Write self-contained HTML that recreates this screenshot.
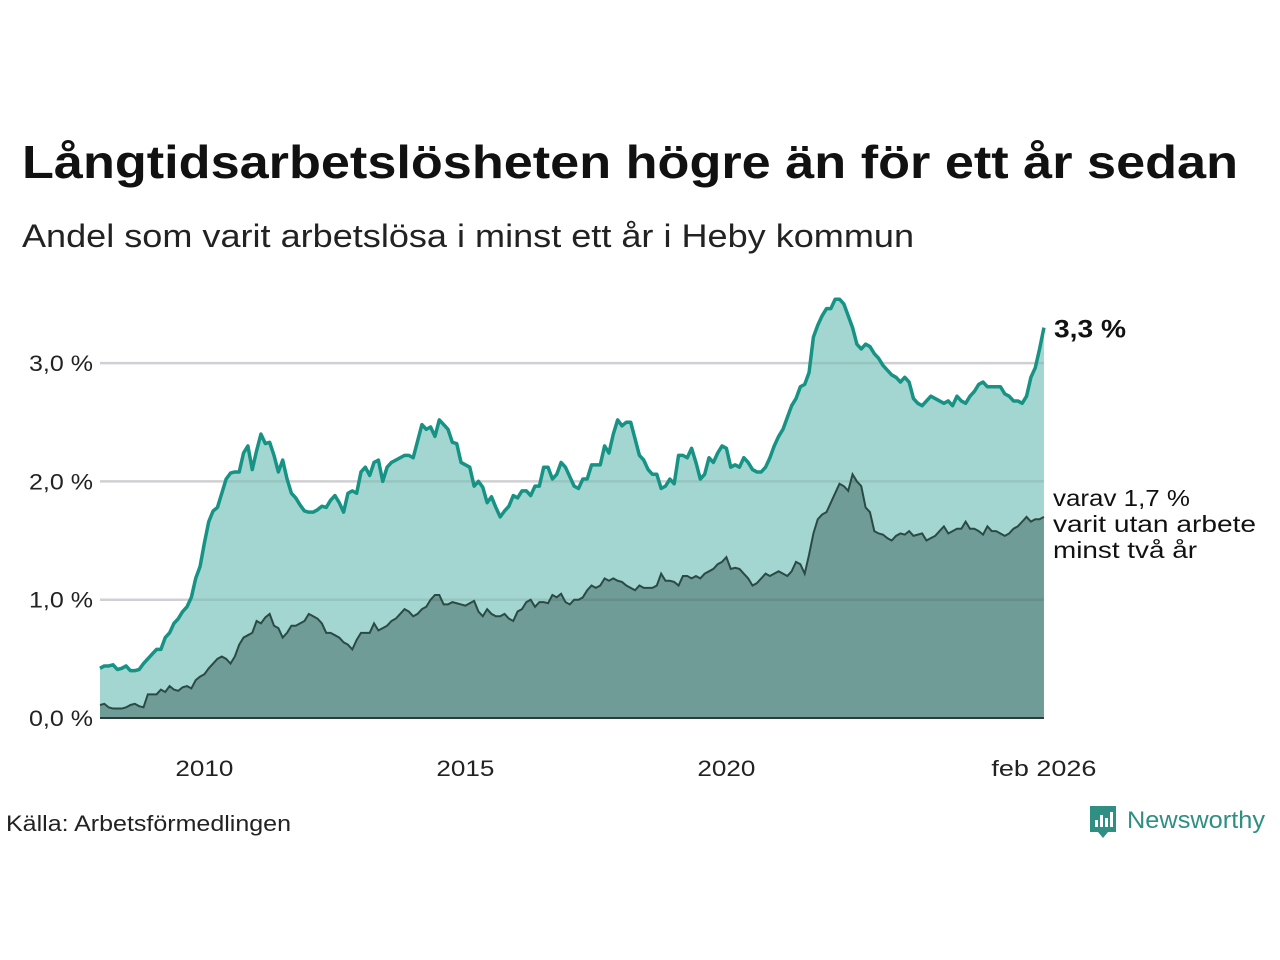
<!DOCTYPE html>
<html><head><meta charset="utf-8"><style>
html,body{margin:0;padding:0;background:#fff;}
svg{display:block;font-family:"Liberation Sans","DejaVu Sans",sans-serif;}
</style></head><body>
<svg id="chart" width="1280" height="960" viewBox="0 0 1280 960" xmlns="http://www.w3.org/2000/svg">
<text x="22" y="178" font-size="46" font-weight="bold" fill="#111" textLength="1216" lengthAdjust="spacingAndGlyphs">Långtidsarbetslösheten högre än för ett år sedan</text>
<text x="22" y="247" font-size="32" fill="#222" textLength="892" lengthAdjust="spacingAndGlyphs">Andel som varit arbetslösa i minst ett år i Heby kommun</text>
<g id="grid"></g>
<g id="areas"></g>
<g id="labels"></g>
<text x="6" y="831" font-size="22" fill="#222" textLength="285" lengthAdjust="spacingAndGlyphs">Källa: Arbetsförmedlingen</text>
<g>
<path d="M1090 806 h26 v26 h-8 l-5 6 l-5 -6 h-8 z" fill="#2f8f83"/>
<rect x="1095" y="820" width="3" height="7" fill="#fff"/><rect x="1100" y="815" width="3" height="12" fill="#fff"/><rect x="1105" y="818" width="3" height="9" fill="#fff"/><rect x="1110" y="812" width="3" height="15" fill="#fff"/>
<text x="1127" y="828" font-size="24" fill="#2f8f83" textLength="138" lengthAdjust="spacingAndGlyphs">Newsworthy</text>
</g>
</svg>
<script>
const startYear = 2008;
const totalValues = [
0.42,0.44,0.44,0.45,0.41,0.42,0.44,0.40,0.40,0.41,0.46,0.50,
0.54,0.58,0.58,0.68,0.72,0.80,0.84,0.90,0.94,1.02,1.18,1.28,
1.48,1.66,1.75,1.78,1.90,2.02,2.07,2.08,2.08,2.24,2.30,2.10,
2.26,2.40,2.32,2.33,2.22,2.08,2.18,2.02,1.90,1.86,1.80,1.75,
1.74,1.74,1.76,1.79,1.78,1.84,1.88,1.82,1.74,1.90,1.92,1.90,
2.08,2.12,2.05,2.16,2.18,2.00,2.12,2.16,2.18,2.20,2.22,2.22,
2.20,2.34,2.48,2.44,2.46,2.38,2.52,2.48,2.44,2.33,2.32,2.16,
2.14,2.12,1.96,2.00,1.95,1.82,1.87,1.78,1.70,1.75,1.79,1.88,
1.86,1.92,1.92,1.88,1.96,1.96,2.12,2.12,2.02,2.06,2.16,2.12,
2.04,1.96,1.94,2.02,2.02,2.14,2.14,2.14,2.30,2.24,2.40,2.52,
2.47,2.50,2.50,2.36,2.22,2.18,2.10,2.06,2.06,1.94,1.96,2.02,
1.98,2.22,2.22,2.20,2.28,2.16,2.02,2.06,2.20,2.16,2.24,2.30,
2.28,2.12,2.14,2.12,2.20,2.16,2.10,2.08,2.08,2.12,2.20,2.30,
2.38,2.44,2.54,2.64,2.70,2.80,2.82,2.92,3.22,3.32,3.40,3.46,
3.46,3.54,3.54,3.50,3.40,3.30,3.16,3.12,3.16,3.14,3.08,3.04,
2.98,2.94,2.90,2.88,2.84,2.88,2.84,2.70,2.66,2.64,2.68,2.72,
2.70,2.68,2.66,2.68,2.64,2.72,2.68,2.66,2.72,2.76,2.82,2.84,
2.80,2.80,2.80,2.80,2.74,2.72,2.68,2.68,2.66,2.72,2.88,2.96,
3.12,3.30];
const twoYearValues = [
0.11,0.12,0.09,0.08,0.08,0.08,0.09,0.11,0.12,0.10,0.09,0.20,
0.20,0.20,0.24,0.22,0.27,0.24,0.23,0.26,0.27,0.25,0.32,0.35,
0.37,0.42,0.46,0.50,0.52,0.50,0.46,0.52,0.62,0.68,0.70,0.72,
0.82,0.80,0.85,0.88,0.78,0.76,0.68,0.72,0.78,0.78,0.80,0.82,
0.88,0.86,0.84,0.80,0.72,0.72,0.70,0.68,0.64,0.62,0.58,0.66,
0.72,0.72,0.72,0.80,0.74,0.76,0.78,0.82,0.84,0.88,0.92,0.90,
0.86,0.88,0.92,0.94,1.00,1.04,1.04,0.96,0.96,0.98,0.97,0.96,
0.95,0.97,0.99,0.90,0.86,0.92,0.88,0.86,0.86,0.88,0.84,0.82,
0.90,0.92,0.98,1.00,0.94,0.98,0.98,0.97,1.04,1.02,1.05,0.98,
0.96,1.00,1.00,1.02,1.08,1.12,1.10,1.12,1.18,1.16,1.18,1.16,
1.15,1.12,1.10,1.08,1.12,1.10,1.10,1.10,1.12,1.22,1.16,1.16,
1.15,1.12,1.20,1.20,1.18,1.20,1.18,1.22,1.24,1.26,1.30,1.32,
1.36,1.26,1.27,1.26,1.22,1.18,1.12,1.14,1.18,1.22,1.20,1.22,
1.24,1.22,1.20,1.24,1.32,1.30,1.22,1.38,1.56,1.68,1.72,1.74,
1.82,1.90,1.98,1.96,1.92,2.06,2.00,1.96,1.78,1.74,1.58,1.56,
1.55,1.52,1.50,1.54,1.56,1.55,1.58,1.54,1.55,1.56,1.50,1.52,
1.54,1.58,1.62,1.56,1.58,1.60,1.60,1.66,1.60,1.60,1.58,1.55,
1.62,1.58,1.58,1.56,1.54,1.56,1.60,1.62,1.66,1.70,1.66,1.68,
1.68,1.70];
const yTicks = [0,1,2,3];
const yTickLabels = ["0,0 %","1,0 %","2,0 %","3,0 %"];
const xTicks = [2010,2015,2020];
const xTickLabels = ["2010","2015","2020"];
const endLabel = "feb 2026";
const totalLabel = "3,3 %";
const twoYearLabelLines = ["varav 1,7 %","varit utan arbete","minst två år"];
const twoYearLabelWidths = [137,203,144];

const NS = "http://www.w3.org/2000/svg";
const x0 = 100, pxPerYear = 52.2, y0 = 718, pxPerUnit = 118.3;
function xScale(monthIndex){ return x0 + (monthIndex / 12) * pxPerYear; }
function yScale(v){ return y0 - v * pxPerUnit; }
function mk(tag, attrs, parent){ const e = document.createElementNS(NS, tag); for (const k in attrs) e.setAttribute(k, attrs[k]); parent.appendChild(e); return e; }

const grid = document.getElementById('grid');
const areas = document.getElementById('areas');
const labels = document.getElementById('labels');
const lastIdx = totalValues.length - 1;
const xEnd = xScale(lastIdx);

yTicks.forEach((t, i) => {
  if (t > 0) {
    const gl = mk('line', {x1: 100, x2: xEnd, y1: yScale(t), y2: yScale(t), stroke: '#e2e2e6', 'stroke-width': 2.5}, grid);
    
    
  }
  const tl = mk('text', {x: 93, y: yScale(t) + 8, 'text-anchor': 'end', 'font-size': 22, fill: '#222', textLength: 64, lengthAdjust: 'spacingAndGlyphs'}, labels);
  tl.textContent = yTickLabels[i];
  
  
});

function areaPath(vals){
  let d = 'M' + xScale(0) + ',' + y0;
  vals.forEach((v, i) => { d += ' L' + xScale(i).toFixed(2) + ',' + yScale(v).toFixed(2); });
  d += ' L' + xScale(vals.length - 1) + ',' + y0 + ' Z';
  return d;
}
function linePath(vals){
  return vals.map((v, i) => (i ? 'L' : 'M') + xScale(i).toFixed(2) + ',' + yScale(v).toFixed(2)).join(' ');
}
const a1 = mk('path', {d: areaPath(totalValues), fill: '#a3d6d1'}, areas);


const a2 = mk('path', {d: areaPath(twoYearValues), fill: '#6f9c96'}, areas);


yTicks.forEach(t => { if (t > 0) { const g = mk('line', {x1: 100, x2: xEnd, y1: yScale(t), y2: yScale(t), stroke: 'rgba(0,0,0,0.08)', 'stroke-width': 2.5}, areas);
  
   } });
const l2 = mk('path', {d: linePath(twoYearValues), fill: 'none', stroke: '#2b4a45', 'stroke-width': 2}, areas);


const l1 = mk('path', {d: linePath(totalValues), fill: 'none', stroke: '#169384', 'stroke-width': 3.5, 'stroke-linejoin': 'round'}, areas);


const base = mk('line', {x1: 100, x2: xEnd, y1: y0, y2: y0, stroke: '#2b3b38', 'stroke-width': 2}, areas);



xTicks.forEach((yr, i) => {
  const t = mk('text', {x: xScale((yr - startYear) * 12), y: 776, 'text-anchor': 'middle', 'font-size': 22, fill: '#222', textLength: 58, lengthAdjust: 'spacingAndGlyphs'}, labels);
  t.textContent = xTickLabels[i];
  
  
});
const et = mk('text', {x: xEnd, y: 776, 'text-anchor': 'middle', 'font-size': 22, fill: '#222', textLength: 105, lengthAdjust: 'spacingAndGlyphs'}, labels);
et.textContent = endLabel;



const tv = mk('text', {x: 1054, y: yScale(totalValues[lastIdx]) + 10, 'font-size': 25, 'font-weight': 'bold', fill: '#111', textLength: 72, lengthAdjust: 'spacingAndGlyphs'}, labels);
tv.textContent = totalLabel;


twoYearLabelLines.forEach((s, i) => {
  const t = mk('text', {x: 1053, y: 506 + i * 26, 'font-size': 23, fill: '#111', textLength: twoYearLabelWidths[i], lengthAdjust: 'spacingAndGlyphs'}, labels);
  t.textContent = s;
  
  
});
</script>
</body></html>
